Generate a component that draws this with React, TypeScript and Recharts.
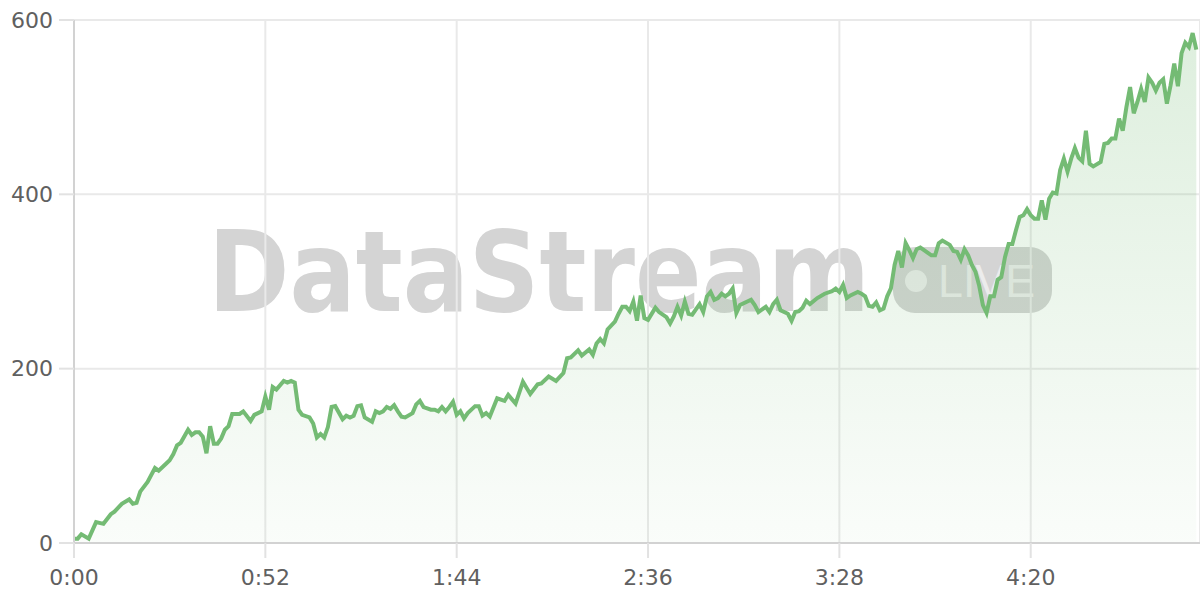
import { AreaChart, Area, XAxis, YAxis, CartesianGrid } from "recharts";

// elapsed seconds of each sample
const seconds = [
  0, 1, 2, 4, 6, 8, 10, 11, 13, 15, 16, 17, 18, 20, 22, 23, 25, 26, 27, 28, 29, 31, 32, 33, 34, 35, 36, 37, 38, 39,
  40, 41, 42, 43, 45, 46, 48, 49, 50, 51, 52, 53, 54, 55, 57, 58, 59, 60, 61, 62, 64, 65, 66, 67, 68, 69, 70, 71, 73,
  74, 75, 76, 77, 78, 79, 81, 82, 83, 84, 85, 86, 87, 88, 89, 90, 92, 93, 94, 95, 97, 98, 99, 100, 101, 102, 103, 104,
  105, 106, 107, 109, 110, 111, 112, 113, 115, 117, 118, 120, 122, 124, 126, 127, 129, 131, 133, 134, 135, 137, 138,
  140, 141, 142, 143, 144, 145, 147, 148, 149, 150, 151, 152, 153, 154, 155, 156, 158, 159, 161, 162, 163, 164, 165,
  166, 167, 168, 170, 171, 172, 173, 174, 175, 176, 177, 178, 179, 180, 181, 184, 185, 186, 188, 189, 190, 191, 192,
  194, 195, 196, 197, 198, 199, 200, 202, 204, 206, 207, 208, 209, 210, 211, 213, 214, 215, 216, 217, 218, 219, 220,
  221, 222, 223, 224, 225, 226, 227, 228, 229, 230, 231, 233, 234, 235, 236, 238, 239, 240, 241, 242, 243, 244, 245,
  246, 247, 248, 249, 250, 251, 252, 253, 254, 255, 256, 257, 258, 259, 260, 261, 262, 263, 264, 265, 266, 267, 268,
  269, 270, 271, 272, 273, 274, 275, 276, 277, 279, 280, 281, 282, 283, 284, 285, 286, 287, 288, 289, 290, 291, 292,
  293, 294, 295, 296, 297, 298, 299, 300, 301, 302, 303, 304, 305,
];

// stream value at each sample
const values = [
  5, 5, 10, 5, 24, 22, 33, 36, 45, 50, 45, 46, 59, 70, 86, 83, 91, 95, 102, 112, 115, 130, 124, 127, 127, 122, 103, 134,
  114, 114, 120, 130, 134, 148, 148, 151, 140, 147, 149, 151, 168, 153, 179, 176, 186, 184, 186, 184, 153, 147, 144,
  137, 121, 125, 121, 133, 156, 157, 142, 146, 144, 146, 157, 158, 144, 139, 151, 149, 151, 156, 154, 158, 151, 145,
  144, 149, 159, 163, 156, 153, 153, 151, 156, 151, 156, 162, 147, 151, 143, 149, 157, 157, 146, 149, 145, 166, 163,
  170, 160, 185, 171, 182, 183, 191, 186, 195, 212, 213, 221, 215, 222, 216, 229, 234, 229, 245, 254, 263, 271, 271,
  266, 277, 255, 284, 258, 256, 270, 265, 259, 252, 260, 271, 261, 277, 263, 262, 274, 265, 283, 288, 279, 281, 286,
  283, 286, 292, 264, 273, 279, 273, 265, 271, 265, 274, 279, 267, 263, 255, 265, 266, 270, 278, 274, 281, 286, 289,
  292, 288, 296, 281, 284, 288, 286, 283, 272, 271, 276, 267, 269, 283, 292, 319, 335, 316, 344, 336, 327, 337, 339,
  336, 330, 330, 344, 347, 342, 335, 334, 325, 337, 330, 319, 311, 295, 273, 264, 283, 283, 302, 305, 328, 343, 343,
  359, 374, 376, 383, 376, 372, 372, 393, 371, 395, 402, 401, 428, 441, 426, 441, 453, 442, 438, 473, 435, 432, 437,
  458, 459, 464, 464, 487, 473, 500, 523, 493, 506, 521, 506, 534, 528, 519, 528, 532, 504, 525, 550, 524, 562, 574,
  569, 585, 566,
];

const xTicks = [0, 52, 104, 156, 208, 260];
const yTicks = [0, 200, 400, 600];

const data = seconds.map((t, i) => ({ t, value: values[i] }));

const fmtTime = (s: number) => `${Math.floor(s / 60)}:${String(s % 60).padStart(2, "0")}`;

const GREEN = "#74bb74";
const tickStyle = { fontFamily: "DejaVu Sans, sans-serif", fontSize: 22, fill: "#606060" };

export default function App() {
  return (
    <div style={{ position: "absolute", left: 0, top: 0, width: 1200, height: 600, background: "#fff" }}>
      {/* watermark sits behind the chart */}
      <svg width={1200} height={600} style={{ position: "absolute", left: 0, top: 0 }}>
        <text
          x={208}
          y={311}
          fontFamily="DejaVu Sans Condensed, DejaVu Sans, sans-serif"
          fontStretch="condensed"
          fontWeight="bold"
          fontSize={112}
          textLength={662}
          lengthAdjust="spacingAndGlyphs"
          fill="#d4d4d4"
        >
          DataStream
        </text>
        <rect x={893} y={247} width={159} height={66} rx={22} fill="#d4d4d4" />
        <circle cx={916} cy={281} r={11} fill="#ececec" />
        <text
          x={938}
          y={297}
          fontFamily="Liberation Sans, Arial, sans-serif"
          fontSize={46}
          textLength={97}
          lengthAdjust="spacingAndGlyphs"
          fill="#ececec"
        >
          LIVE
        </text>
      </svg>
      <div style={{ position: "absolute", left: 0, top: 0 }}>
        <AreaChart width={1200} height={600} data={data} margin={{ top: 20, right: 0, bottom: 0, left: 0 }}>
          <defs>
            <linearGradient id="fillGreen" x1="0" y1="0" x2="0" y2="1">
              <stop offset="0%" stopColor={GREEN} stopOpacity={0.4} />
              <stop offset="100%" stopColor={GREEN} stopOpacity={0.06} />
            </linearGradient>
          </defs>
          <CartesianGrid stroke="#e9e9e9" strokeWidth={2} />
          <XAxis
            dataKey="t"
            type="number"
            domain={[0, 306]}
            ticks={xTicks}
            tickFormatter={fmtTime}
            height={57}
            tickSize={15}
            tickMargin={11}
            axisLine={{ stroke: "#d2d2d2", strokeWidth: 2 }}
            tickLine={{ stroke: "#e2e2e2", strokeWidth: 2 }}
            tick={tickStyle}
          />
          <YAxis
            type="number"
            domain={[0, 600]}
            ticks={yTicks}
            width={74}
            tickSize={15}
            tickMargin={6}
            axisLine={{ stroke: "#d2d2d2", strokeWidth: 2 }}
            tickLine={{ stroke: "#e2e2e2", strokeWidth: 2 }}
            tick={tickStyle}
          />
          <Area
            type="linear"
            dataKey="value"
            stroke={GREEN}
            strokeWidth={4}
            fill="url(#fillGreen)"
            dot={false}
            activeDot={false}
            isAnimationActive={false}
          />
        </AreaChart>
      </div>
    </div>
  );
}
